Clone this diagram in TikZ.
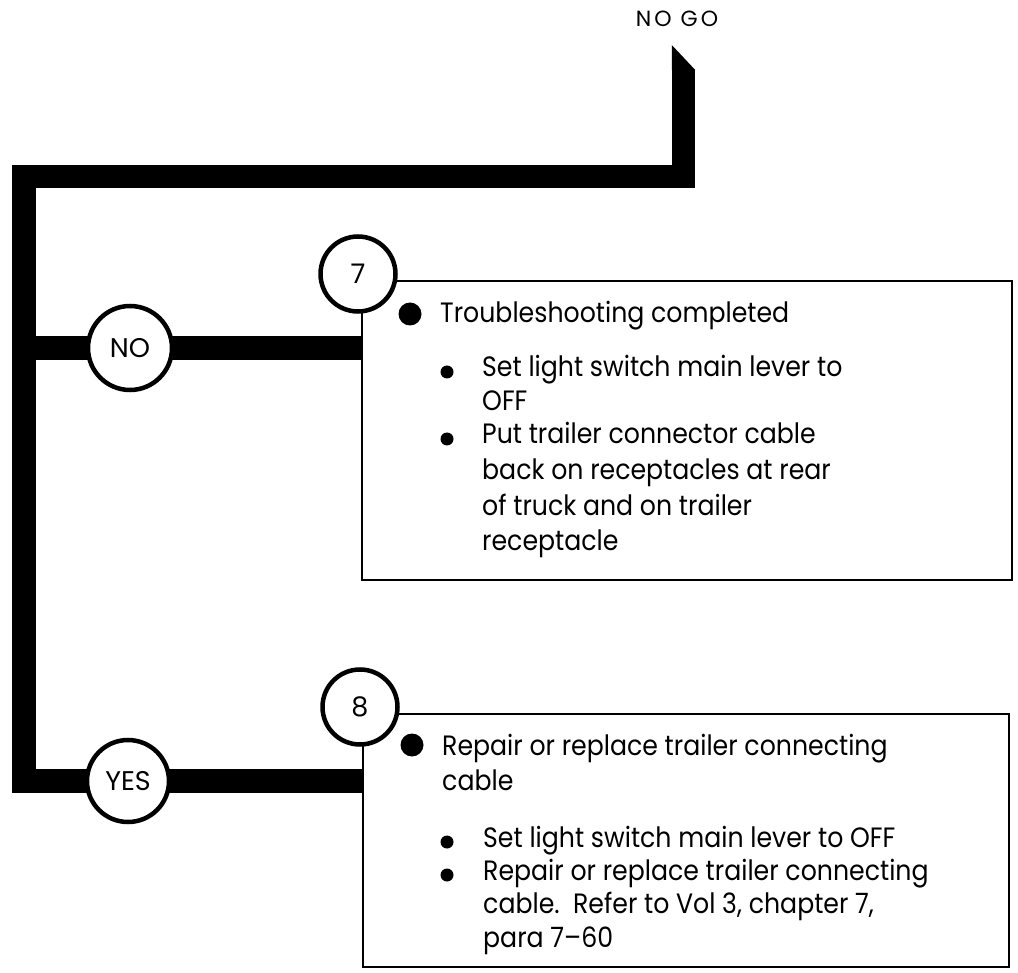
\documentclass[tikz,border=0pt]{standalone}
\usepackage{fontspec}
\setmainfont[FakeStretch=0.9]{Poppins}
\newfontfamily\capfont{Poppins}
\usetikzlibrary{backgrounds}
\tikzset{
  bar/.style={line width=23.5pt, draw=black, line join=miter, line cap=butt},
  ring/.style={circle, draw=black, line width=4.5pt, fill=white, inner sep=0pt, font=\capfont\fontsize{27}{27}\selectfont},
  boxframe/.style={draw=black, line width=2.2pt, inner sep=0pt},
  txt/.style={anchor=base west, inner sep=0pt, font=\fontsize{28}{34}\selectfont},
  bigdot/.style={fill=black},
}
\begin{document}
\begin{tikzpicture}[x=1pt,y=-1pt]
\useasboundingbox (0,0) rectangle (1018,973);
% title
\node[anchor=base, inner sep=0pt, font=\capfont\fontsize{22}{22}\selectfont\addfontfeature{LetterSpace=14}] (nogo) at (677,27) {NO GO};
% boxes
\node[boxframe, minimum width=650pt, minimum height=299pt] (box7) at (687,430.5) {};
\node[boxframe, minimum width=646pt, minimum height=253pt] (box8) at (686,840.5) {};
% number circles
\node[ring, minimum size=75pt] (n7) at (358,274) {7};
\node[ring, minimum size=75pt] (n8) at (360,707) {8};
% decision circles
\node[ring, minimum size=84pt] (no) at (130,348) {NO};
\node[ring, minimum size=82pt] (yes) at (128,781) {YES};
% flow bars
\coordinate (cl) at (24,176.5);
\coordinate (cr) at (683.5,176.5);
\coordinate (tip) at (683.5,70);
\begin{pgfonlayer}{background}
\draw[bar] (yes -| box8.west) -- (cl |- yes) -- (cl) -- (cr) -- (tip);
\fill (tip) ++(-11.75,0) -- ++(23.5,0) -- ++(-23.5,-25) -- cycle;
\draw[bar] (no -| cl) -- (no -| box7.west);
\end{pgfonlayer}
% box 7 text
\fill[bigdot] (410,314) circle (11.5);
\node[txt] (t7a) at (440,323) {Troubleshooting completed};
\fill[bigdot] (447,372) circle (6.5);
\node[txt] (t7b) at (482,377) {Set light switch main lever to};
\node[txt] (t7c) at (482,411) {OFF};
\fill[bigdot] (447,439) circle (6.5);
\node[txt] (t7d) at (482,444) {Put trailer connector cable};
\node[txt] (t7e) at (482,479) {back on receptacles at rear};
\node[txt] (t7f) at (482,515) {of truck and on trailer};
\node[txt] (t7g) at (482,550) {receptacle};
% box 8 text
\fill[bigdot] (412,745) circle (11.5);
\node[txt] (t8a) at (442,755) {Repair or replace trailer connecting};
\node[txt] (t8b) at (442,790) {cable};
\fill[bigdot] (447,842) circle (6.5);
\node[txt] (t8c) at (483,847) {Set light switch main lever to OFF};
\fill[bigdot] (447,875) circle (6.5);
\node[txt] (t8d) at (483,880) {Repair or replace trailer connecting};
\node[txt] (t8e) at (483,913) {cable.\ \ Refer to Vol 3, chapter 7,};
\node[txt] (t8f) at (483,947) {para 7–60};
\end{tikzpicture}
\end{document}
